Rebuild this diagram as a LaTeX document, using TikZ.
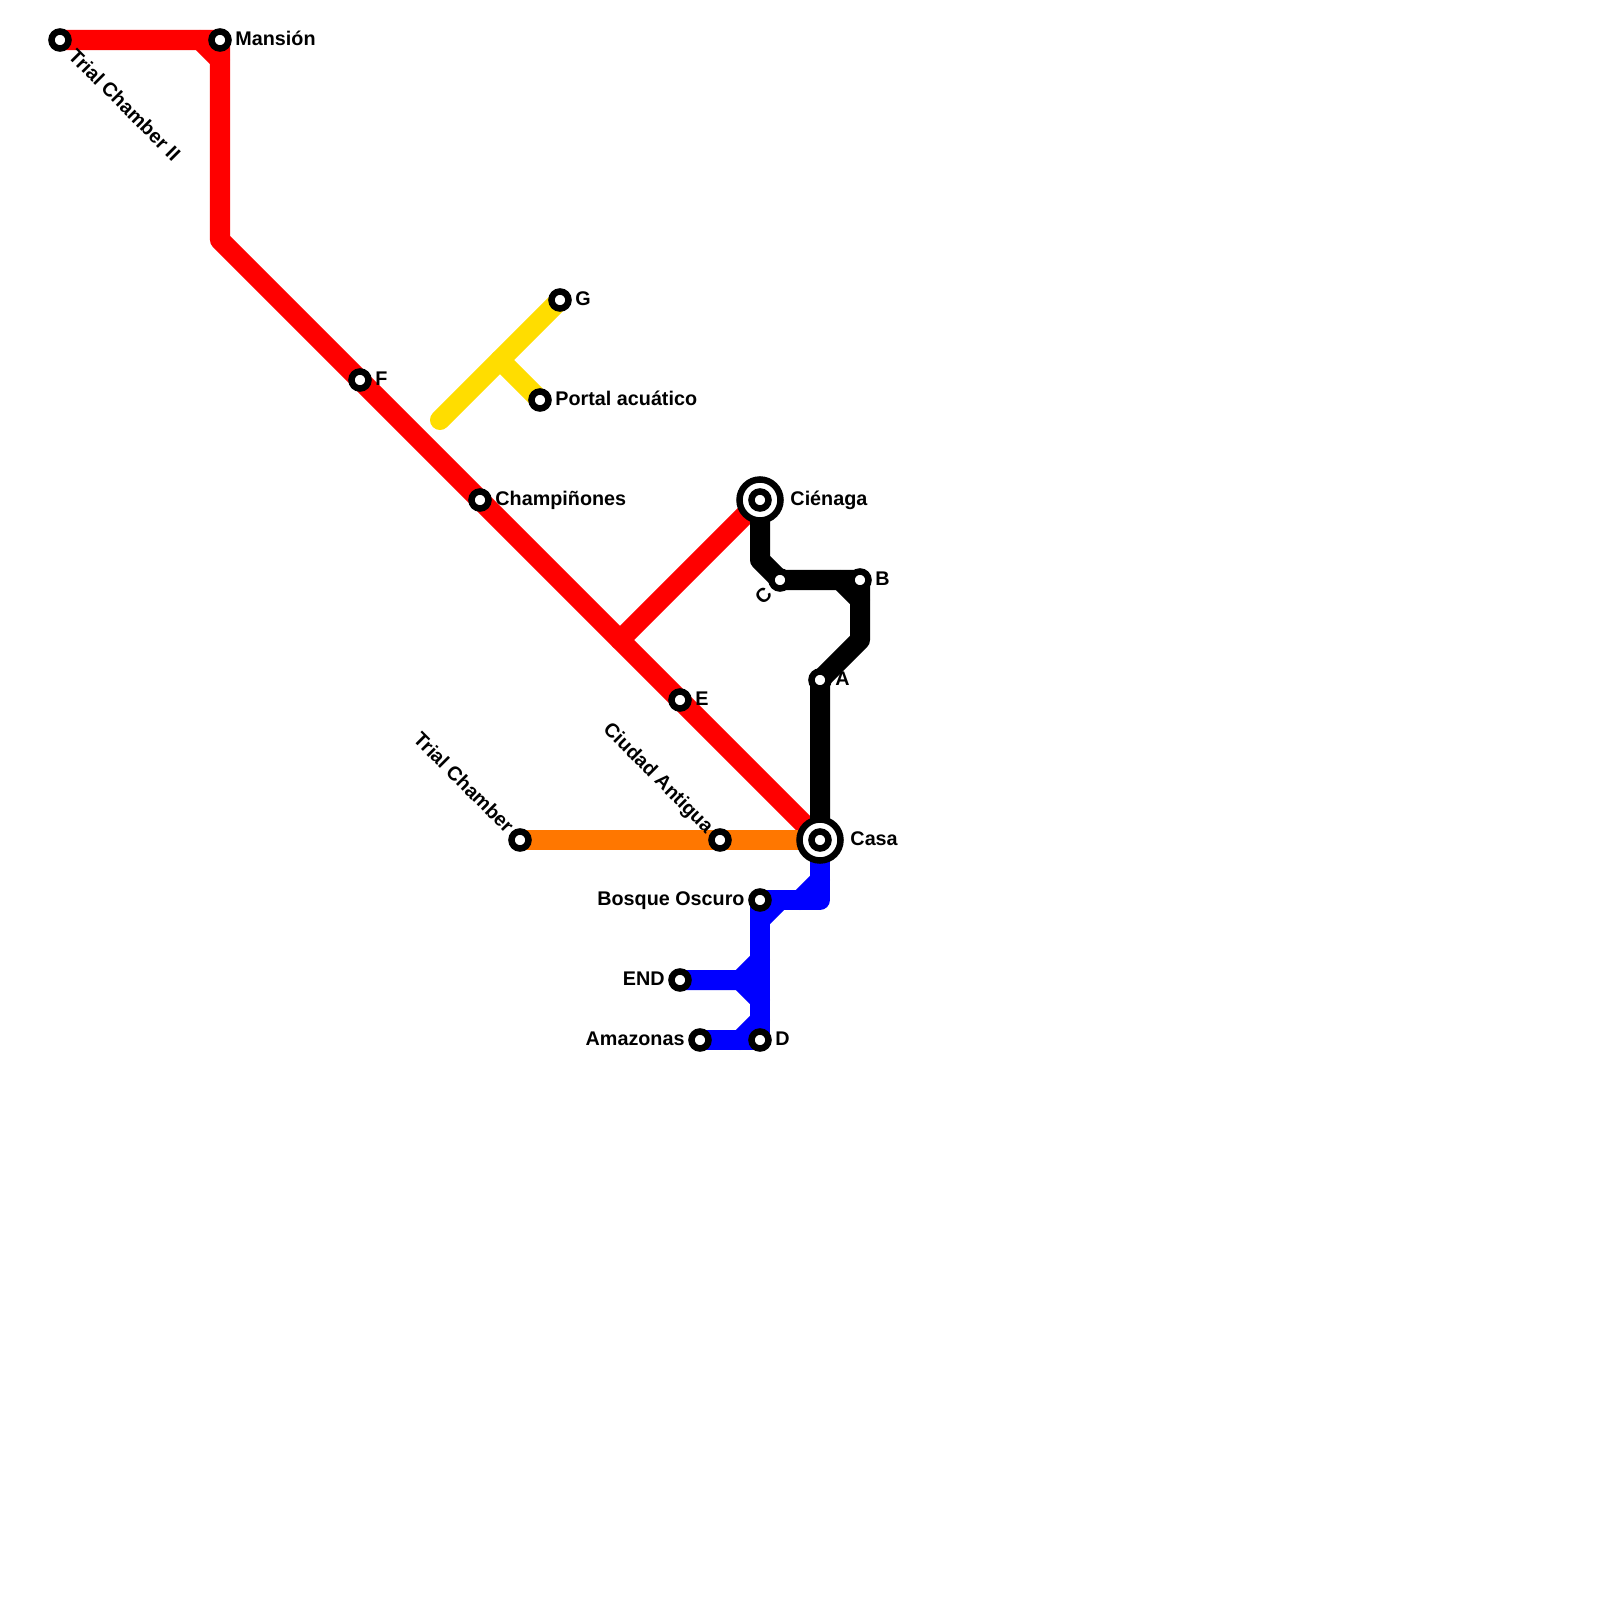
\documentclass[tikz,border=0pt]{standalone}
\usepackage{fontspec}
\setmainfont{Liberation Sans}
\usepackage{xcolor}
\usetikzlibrary{positioning}

\definecolor{linered}{HTML}{FF0000}
\definecolor{lineorange}{HTML}{FF7700}
\definecolor{lineyellow}{HTML}{FFDD00}
\definecolor{lineblue}{HTML}{0000FF}

\begin{document}
\begin{tikzpicture}[x=0.01cm, y=-0.01cm, node distance=0.03cm]

\tikzstyle{metroline} =
[line width=0.2cm,
line cap=round,
line join=round]

\tikzstyle{station} =
[circle,
inner sep=0pt,
minimum size=0.17cm,
line width=0.065cm,
draw=black,
fill=white]

\tikzstyle{interchange} =
[circle,
inner sep=0pt,
minimum size=0.41cm,
line width=0.065cm,
draw=black,
fill=white]

\tikzstyle{stationlabel} =
[inner sep=0pt,
font=\fontsize{5.62pt}{6pt}\selectfont\bfseries,
text height=0.72em,
text depth=0.38em,
text=black]

\useasboundingbox (0,0) rectangle (1600,1600);

\coordinate (redbend) at (220,240);
\coordinate (redfork) at (620,640);
\coordinate (redtopa) at (200,40);
\coordinate (redtopb) at (220,60);
\coordinate (yellowend) at (440,420);
\coordinate (yellowfork) at (500,360);
\coordinate (blackbenda) at (760,560);
\coordinate (blackbendb) at (840,580);
\coordinate (blackbendc) at (860,600);
\coordinate (blackbendd) at (860,640);
\coordinate (bluecorner) at (820,900);
\coordinate (bluechamfera) at (820,880);
\coordinate (bluechamferb) at (800,900);
\coordinate (bluechamferc) at (780,900);
\coordinate (bluechamferd) at (760,920);
\coordinate (bluechamfere) at (740,980);
\coordinate (bluechamferf) at (760,960);
\coordinate (bluechamferg) at (760,1000);
\coordinate (bluechamferh) at (740,1040);
\coordinate (bluechamferi) at (760,1020);

\path (60,40) coordinate (trialtwoc);
\path (220,40) coordinate (mansionc);
\path (360,380) coordinate (fc);
\path (480,500) coordinate (champic);
\path (680,700) coordinate (ec);
\path (820,840) coordinate (casac);
\path (760,500) coordinate (cienagac);
\path (780,580) coordinate (cc);
\path (860,580) coordinate (bc);
\path (820,680) coordinate (ac);
\path (520,840) coordinate (trialc);
\path (720,840) coordinate (ciudadc);
\path (560,300) coordinate (gc);
\path (540,400) coordinate (portalc);
\path (760,900) coordinate (bosquec);
\path (680,980) coordinate (endc);
\path (700,1040) coordinate (amazonasc);
\path (760,1040) coordinate (dc);

\draw[metroline, linered] (trialtwoc) -- (mansionc) -- (redbend) -- (casac);
\draw[metroline, linered] (redtopa) -- (redtopb);
\draw[metroline, linered] (redfork) -- (cienagac);

\draw[metroline, lineorange] (trialc) -- (casac);

\draw[metroline, lineyellow] (yellowend) -- (gc);
\draw[metroline, lineyellow] (yellowfork) -- (portalc);

\draw[metroline, black] (cienagac) -- (blackbenda) -- (cc) -- (bc) -- (blackbendd) -- (ac) -- (casac);
\draw[metroline, black] (blackbendb) -- (blackbendc);

\draw[metroline, lineblue] (casac) -- (bluecorner) -- (bosquec) -- (dc) -- (amazonasc);
\draw[metroline, lineblue] (bluechamfera) -- (bluechamferb);
\draw[metroline, lineblue] (bluechamferc) -- (bluechamferd);
\draw[metroline, lineblue] (endc) -- (bluechamfere) -- (bluechamferf);
\draw[metroline, lineblue] (bluechamfere) -- (bluechamferg);
\draw[metroline, lineblue] (bluechamferh) -- (bluechamferi);

\node (cienagaring) [interchange] at (cienagac) {};
\node (casaring) [interchange] at (casac) {};

\node (trialtwo) [station] at (trialtwoc) {};
\node (mansion) [station] at (mansionc) {};
\node (f) [station] at (fc) {};
\node (champi) [station] at (champic) {};
\node (e) [station] at (ec) {};
\node (casa) [station] at (casac) {};
\node (cienaga) [station] at (cienagac) {};
\node (c) [station] at (cc) {};
\node (b) [station] at (bc) {};
\node (a) [station] at (ac) {};
\node (trial) [station] at (trialc) {};
\node (ciudad) [station] at (ciudadc) {};
\node (g) [station] at (gc) {};
\node (portal) [station] at (portalc) {};
\node (bosque) [station] at (bosquec) {};
\node (endst) [station] at (endc) {};
\node (amazonas) [station] at (amazonasc) {};
\node (d) [station] at (dc) {};

\node (mansionlabel) [stationlabel, right=of mansion] {Mansión};
\node (flabel) [stationlabel, right=of f] {F};
\node (champilabel) [stationlabel, right=of champi] {Champiñones};
\node (elabel) [stationlabel, right=of e] {E};
\node (blabel) [stationlabel, right=of b] {B};
\node (alabel) [stationlabel, right=of a] {A};
\node (glabel) [stationlabel, right=of g] {G};
\node (portallabel) [stationlabel, right=of portal] {Portal acuático};
\node (dlabel) [stationlabel, right=of d] {D};
\node (cienagalabel) [stationlabel, right=0.06cm of cienagaring] {Ciénaga};
\node (casalabel) [stationlabel, right=0.06cm of casaring] {Casa};

\node (bosquelabel) [stationlabel, left=of bosque] {Bosque Oscuro};
\node (endlabel) [stationlabel, left=of endst] {END};
\node (amazonaslabel) [stationlabel, left=of amazonas] {Amazonas};

\node (triallabel) [stationlabel, rotate=-45, anchor=east, xshift=-0.02cm] at (trial.north west) {Trial Chamber};
\node (ciudadlabel) [stationlabel, rotate=-45, anchor=east, xshift=-0.02cm] at (ciudad.north west) {Ciudad Antigua};
\node (trialtwolabel) [stationlabel, rotate=-45, anchor=west, xshift=0.05cm, yshift=-0.01cm] at (trialtwo.south east) {Trial Chamber II};
\node (clabel) [stationlabel, rotate=45, anchor=east, xshift=-0.03cm] at (c.south west) {C};

\end{tikzpicture}
\end{document}
